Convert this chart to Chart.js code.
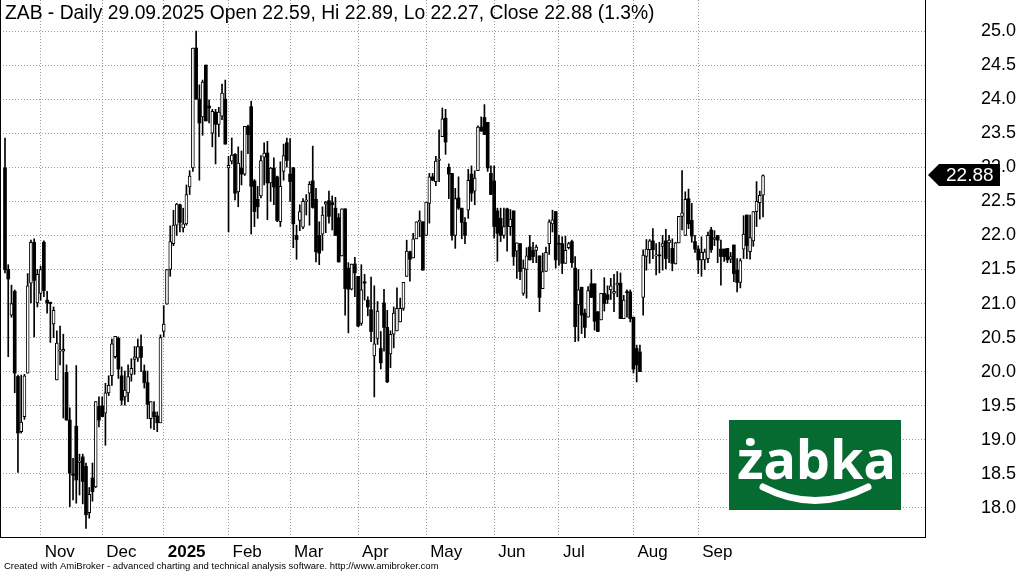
<!DOCTYPE html>
<html>
<head>
<meta charset="utf-8">
<title>ZAB - Daily</title>
<script src="https://cdn.jsdelivr.net/npm/chart.js@4.4.1/dist/chart.umd.min.js"></script>
<style>
  html, body { margin: 0; padding: 0; background: #fff; }
  #wrap { width: 1022px; height: 572px; }
</style>
</head>
<body>
<div id="wrap"><canvas id="zab" width="1022" height="572"></canvas></div>
<script>
// daily OHLC, mid Oct 2024 .. 29.09.2025
const openP = [
  22.99,21.5,20.83,21.18,19.93,19.12,19.34,19.98,21.3,21.9,
  21.01,21.15,21.9,21.05,21.02,20.7,19.88,20.3,20.3,19.99,
  19.29,18.5,19.2,18.67,18.75,18.61,17.93,18.44,18.31,19.49,
  19.5,19.39,19.69,19.94,20.22,20.49,19.94,19.63,19.69,19.96,
  20.18,20.2,20.37,20.01,19.84,19.31,19.41,19.35,19.25,20.59,
  20.99,21.5,21.88,22.15,22.45,22.11,22.17,22.71,22.99,24.75,
  24.0,23.74,24.5,23.9,23.5,23.81,23.63,23.75,24.0,22.99,
  23.09,23.19,22.64,22.99,22.9,23.6,23.89,22.8,22.53,22.58,
  23.15,23.21,22.77,22.99,22.86,22.2,22.94,23.36,22.9,22.99,
  22.0,22.22,22.12,22.5,22.62,22.8,22.53,22.0,22.02,22.46,
  22.51,22.48,22.4,22.26,21.7,22.39,21.52,21.21,21.58,21.4,
  20.71,21.32,21.05,20.91,20.23,20.49,20.34,21.01,20.65,20.26,
  20.55,20.6,20.73,20.93,21.4,21.76,21.67,21.95,22.2,22.2,
  22.0,22.47,22.86,22.79,23.1,23.45,23.72,23.0,22.91,22.0,
  22.55,22.4,22.19,22.37,22.9,22.65,22.95,23.59,23.73,23.66,
  22.91,22.8,22.36,22.25,22.0,22.39,22.13,22.36,21.77,21.88,
  21.15,21.5,21.83,21.78,21.78,21.7,21.22,21.47,21.88,22.17,
  22.35,21.88,21.88,21.59,21.82,21.91,21.52,20.98,21.24,20.86,
  20.8,21.29,21.29,20.88,20.76,21.15,21.13,21.2,21.15,21.27,
  21.3,20.78,21.17,21.17,20.8,20.34,20.29,21.09,21.69,21.79,
  21.92,21.7,21.71,21.84,21.92,21.89,21.81,21.58,21.89,22.28,
  22.0,22.54,22.22,21.91,21.8,21.64,21.64,21.66,22.08,21.94,
  22.0,21.8,21.8,21.81,21.65,21.86,21.49,21.31,21.8,22.3,
  21.76,21.92,22.35,22.48,22.59
];
const highP = [
  23.43,21.57,21.27,21.2,19.95,19.95,19.96,21.44,21.93,21.95,
  21.5,21.55,21.92,21.18,21.02,20.95,20.6,20.67,20.55,20.1,
  19.47,18.73,20.09,18.79,18.79,18.66,18.3,18.66,19.56,19.63,
  19.63,19.83,19.94,20.48,20.52,20.51,20.07,20.01,20.1,20.19,
  20.37,20.48,20.54,20.1,20.01,19.56,19.56,19.41,20.54,20.97,
  21.5,22.14,22.37,22.47,22.46,22.4,22.74,22.95,24.75,25.0,
  24.21,24.28,24.5,23.99,23.85,23.85,23.88,24.22,24.28,23.16,
  23.43,23.2,23.3,23.24,23.6,23.62,23.97,22.82,22.72,23.17,
  23.36,23.38,23.0,23.14,22.87,23.08,23.34,23.43,23.42,23.0,
  22.15,22.45,22.54,22.6,22.79,23.31,22.69,22.2,22.42,22.5,
  22.65,22.58,22.56,22.32,22.39,22.39,21.6,21.58,21.68,21.4,
  21.57,21.43,21.1,21.39,21.26,21.03,20.59,21.21,20.9,20.6,
  20.95,21.23,21.08,21.31,21.93,21.77,22.03,22.2,22.36,22.2,
  22.49,22.91,22.91,23.16,23.55,23.87,23.85,23.05,22.91,22.69,
  22.86,22.4,22.26,22.97,23.02,22.95,23.61,23.74,23.92,23.66,
  23.02,23.02,22.4,22.4,22.4,22.4,22.38,22.36,21.89,21.88,
  21.64,21.82,22.0,21.9,21.86,21.7,21.74,21.83,22.23,22.37,
  22.35,22.0,21.98,21.99,21.9,21.93,21.69,21.5,21.24,20.92,
  21.25,21.5,21.29,20.88,21.15,21.38,21.26,21.37,21.43,21.47,
  21.45,21.12,21.2,21.2,20.8,20.39,20.39,21.79,21.94,21.94,
  22.1,21.88,21.9,22.0,22.09,22.0,21.95,21.9,22.28,22.95,
  22.64,22.68,22.47,22.0,21.85,21.98,21.8,22.05,22.12,22.07,
  22.0,21.93,21.8,21.81,21.75,21.86,21.66,21.66,22.29,22.3,
  22.3,22.35,22.79,22.65,22.89
];
const lowP = [
  21.45,20.22,20.8,19.69,18.52,19.1,19.3,19.98,21.01,20.51,
  20.95,21.05,21.1,20.86,20.43,20.5,19.88,20.1,19.32,19.29,
  18.02,18.12,18.07,18.19,18.06,17.7,17.85,18.1,18.3,19.19,
  19.34,18.92,19.65,19.8,20.2,19.9,19.51,19.51,19.56,19.86,
  19.96,20.15,20.0,19.76,19.31,19.17,19.15,19.12,19.25,20.51,
  20.99,21.4,21.85,22.0,22.05,22.05,22.15,22.6,22.94,24.0,
  22.81,23.47,23.68,23.65,23.3,23.05,23.45,23.7,23.34,22.05,
  23.05,22.52,22.42,22.74,22.88,23.2,22.02,22.13,22.25,22.55,
  22.74,22.23,22.5,22.45,22.2,22.13,22.81,23.0,22.5,21.82,
  21.65,22.07,22.1,22.3,22.15,22.4,21.61,21.57,21.78,22.04,
  22.18,22.08,22.0,21.61,21.7,20.83,20.57,21.2,21.1,20.66,
  20.68,21.05,20.82,20.44,19.63,20.4,20.04,20.3,19.84,20.06,
  20.35,20.6,20.73,20.9,21.4,21.33,21.67,21.95,21.98,21.49,
  22.0,22.18,22.8,22.73,22.79,23.45,23.19,22.54,21.93,21.81,
  22.38,21.95,21.88,22.25,22.5,22.45,22.95,23.53,23.48,22.94,
  22.6,21.96,21.62,21.91,21.96,21.77,22.0,21.56,21.37,21.35,
  21.12,21.08,21.64,21.6,21.6,20.88,21.22,21.47,21.72,22.05,
  21.52,21.56,21.44,21.59,21.8,21.53,20.44,20.45,20.56,20.5,
  20.8,21.09,20.61,20.59,20.76,20.89,21.0,21.06,20.88,21.1,
  20.78,20.78,20.8,20.73,19.98,19.85,20.0,20.83,21.49,21.59,
  21.66,21.42,21.45,21.49,21.51,21.6,21.48,21.58,21.89,22.08,
  22.0,22.1,21.9,21.75,21.44,21.4,21.5,21.6,21.75,21.85,
  21.6,21.27,21.62,21.6,21.6,21.32,21.17,21.23,21.66,21.66,
  21.65,21.84,22.13,22.24,22.27
];
const closeP = [
  21.5,21.36,21.0,19.98,19.1,19.26,19.94,21.26,21.9,21.34,
  21.43,21.5,21.19,21.01,21.0,20.9,20.42,20.32,20.33,19.29,
  18.51,18.48,18.41,18.69,18.39,17.9,18.2,18.24,19.56,19.29,
  19.34,19.69,19.8,20.41,20.52,20.04,19.58,19.73,19.93,20.05,
  20.22,20.37,20.21,19.84,19.52,19.56,19.34,19.25,20.5,20.7,
  21.5,21.91,22.15,22.46,22.19,22.17,22.6,22.87,24.75,24.0,
  23.65,24.25,23.68,23.87,23.82,23.63,23.81,24.09,23.34,23.03,
  23.18,22.62,23.06,22.9,23.6,23.48,22.72,22.35,22.42,23.1,
  23.21,22.77,22.99,22.71,22.22,22.72,23.17,23.1,22.79,22.17,
  21.94,22.35,22.5,22.52,22.75,22.41,21.76,21.74,22.3,22.49,
  22.28,22.45,22.0,21.61,22.39,21.22,21.21,21.58,21.45,20.67,
  21.2,21.3,20.95,20.59,20.41,20.89,20.13,20.65,19.85,20.55,
  20.86,20.93,20.93,21.31,21.77,21.65,21.95,22.2,22.22,21.49,
  22.49,22.86,22.81,23.09,23.12,23.71,23.37,22.9,22.0,22.54,
  22.4,22.19,22.0,22.81,22.62,22.84,23.59,23.53,23.48,22.99,
  22.6,22.13,22.03,22.0,22.13,22.13,22.24,21.69,21.89,21.47,
  21.52,21.7,21.64,21.69,21.83,21.09,21.47,21.75,22.2,22.23,
  21.64,21.87,21.59,21.78,21.88,21.6,20.66,21.2,20.83,20.65,
  21.19,21.09,20.74,20.59,21.15,21.0,21.06,21.26,21.18,21.3,
  20.78,21.05,21.16,20.78,20.04,20.1,20.0,21.71,21.8,21.92,
  21.79,21.71,21.7,21.88,21.66,21.93,21.59,21.89,22.28,22.33,
  22.53,22.17,21.99,21.8,21.64,21.75,21.76,22.0,21.79,21.97,
  21.93,21.69,21.69,21.64,21.69,21.44,21.31,21.63,22.02,21.85,
  21.97,22.35,22.5,22.59,22.88
];

// first trading day of each month (bar index) and its label
const monthTickIdx = [11, 30, 49, 69, 88, 109, 130, 151, 171, 194, 214];
const monthLabels = ['Nov', 'Dec', '2025', 'Feb', 'Mar', 'Apr', 'May', 'Jun', 'Jul', 'Aug', 'Sep'];
const priceTicks = [18.0, 18.5, 19.0, 19.5, 20.0, 20.5, 21.0, 21.5, 22.0, 22.5, 23.0, 23.5, 24.0, 24.5, 25.0];

const titleText = 'ZAB - Daily 29.09.2025 Open 22.59, Hi 22.89, Lo 22.27, Close 22.88 (1.3%)';
const footerText = 'Created with AmiBroker - advanced charting and technical analysis software. http://www.amibroker.com';
const FONT = '"Liberation Sans", Arial, sans-serif';

const wickData = lowP.map((l, i) => ({ x: i, y: [l, highP[i]] }));
const bodyData = openP.map((o, i) => ({ x: i, y: [o, closeP[i]] }));
const isUp = i => closeP[i] >= openP[i];

const extras = {
  id: 'extras',
  afterDraw(chart) {
    const ctx = chart.ctx;
    const area = chart.chartArea;
    const yScale = chart.scales.y;
    ctx.save();

    // left frame line
    ctx.strokeStyle = '#000';
    ctx.lineWidth = 1;
    ctx.beginPath();
    ctx.moveTo(0.5, area.top);
    ctx.lineTo(0.5, area.bottom);
    ctx.stroke();

    // header, sized to the width it has in the original
    ctx.fillStyle = '#000';
    ctx.font = '17px ' + FONT;
    const hs = 17 * 650 / ctx.measureText(titleText).width;
    ctx.font = hs.toFixed(1) + 'px ' + FONT;
    ctx.textAlign = 'left';
    ctx.textBaseline = 'alphabetic';
    ctx.fillText(titleText, 5, 19);

    // last price tag
    const last = closeP[closeP.length - 1];
    const py = Math.round(yScale.getPixelForValue(last));
    ctx.fillStyle = '#000';
    ctx.beginPath();
    ctx.moveTo(928, py);
    ctx.lineTo(939, py - 11);
    ctx.lineTo(1000, py - 11);
    ctx.lineTo(1000, py + 11);
    ctx.lineTo(939, py + 11);
    ctx.closePath();
    ctx.fill();
    ctx.fillStyle = '#fff';
    ctx.font = '19px ' + FONT;
    ctx.textBaseline = 'middle';
    ctx.fillText(last.toFixed(2), 946, py + 1);

    // zabka logo
    ctx.fillStyle = '#056b30';
    ctx.fillRect(729, 420, 172, 90);
    ctx.fillStyle = '#fff';
    ctx.font = 'bold 60px "Noto Sans", sans-serif';
    const w = ctx.measureText('żabka').width;
    const size = Math.round(60 * 158 / w);
    ctx.font = 'bold ' + size + 'px "Noto Sans", sans-serif';
    ctx.textBaseline = 'alphabetic';
    ctx.fillText('żabka', 737, 479);
    ctx.strokeStyle = '#fff';
    ctx.lineWidth = 7;
    ctx.lineCap = 'round';
    ctx.beginPath();
    ctx.moveTo(763, 487);
    ctx.quadraticCurveTo(815, 514, 868, 487);
    ctx.stroke();

    // footer
    ctx.fillStyle = '#000';
    ctx.font = '9.5px ' + FONT;
    ctx.textBaseline = 'alphabetic';
    ctx.fillText(footerText, 4, 569);
    ctx.restore();
  }
};

new Chart(document.getElementById('zab'), {
  type: 'bar',
  data: {
    datasets: [
      {
        label: 'body',
        data: bodyData,
        order: 0,
        grouped: false,
        barThickness: 3,
        minBarLength: 1,
        backgroundColor: c => isUp(c.dataIndex) ? '#fff' : '#000',
        borderColor: '#000',
        borderWidth: c => isUp(c.dataIndex) ? 1 : 0,
        borderSkipped: false
      },
      {
        label: 'wick',
        data: wickData,
        order: 1,
        grouped: false,
        barThickness: 1,
        backgroundColor: '#000',
        borderWidth: 0
      }
    ]
  },
  options: {
    responsive: false,
    animation: false,
    devicePixelRatio: 1,
    layout: { padding: 0, autoPadding: false },
    plugins: {
      legend: { display: false },
      tooltip: { enabled: false }
    },
    scales: {
      x: {
        type: 'linear',
        offset: false,
        min: -1.544,
        max: 284,
        afterBuildTicks: s => { s.ticks = monthTickIdx.map(v => ({ value: v })); },
        afterFit: s => {
          s.height = 35;
          s.paddingLeft = 0;
          s.paddingRight = 0;
        },
        grid: { color: '#9a9a9a', drawTicks: false, offset: false },
        border: { color: '#000', dash: [1, 2] },
        ticks: {
          align: 'start',
          labelOffset: 4,
          padding: 5,
          color: '#000',
          autoSkip: false,
          maxRotation: 0,
          callback: (v, i) => monthLabels[i],
          font: c => ({ family: FONT, size: 17, weight: (c.tick && c.tick.label === '2025') ? 'bold' : 'normal' })
        }
      },
      y: {
        position: 'right',
        min: 17.574,
        max: 25.455,
        afterBuildTicks: s => { s.ticks = priceTicks.map(v => ({ value: v })); },
        afterFit: s => {
          s.width = 97;
          s.paddingTop = 0;
          s.paddingBottom = 0;
        },
        grid: { color: '#9a9a9a', drawTicks: false },
        border: { color: '#000', dash: [1, 2] },
        ticks: {
          padding: 56,
          color: '#000',
          font: { family: FONT, size: 18 },
          callback: v => v.toFixed(1)
        }
      }
    }
  },
  plugins: [extras]
});
</script>
</body>
</html>
